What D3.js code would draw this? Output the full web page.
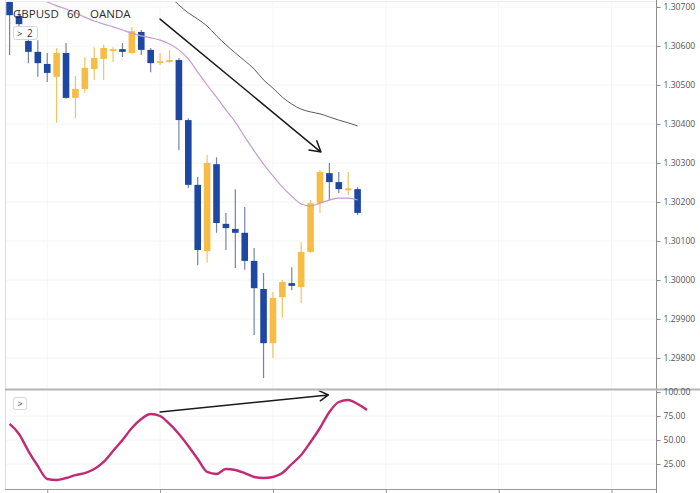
<!DOCTYPE html>
<html>
<head>
<meta charset="utf-8">
<script src="https://cdnjs.cloudflare.com/ajax/libs/d3/7.8.5/d3.min.js"></script>
<style>
body { margin: 0; background: #fff; }
#chart text { font-family: "Open Sans", sans-serif; }
</style>
</head>
<body>
<div id="chart"></div>
<script>
// GBPUSD 60 candles
let opens  = [1.30713, 1.30677, 1.30613, 1.30585, 1.30554, 1.30521, 1.30582, 1.30467, 1.30490, 1.30541, 1.30567, 1.30589, 1.30592, 1.30582, 1.30636, 1.30590, 1.30558, 1.30561, 1.30564, 1.30410, 1.30244, 1.30074, 1.30297, 1.30144, 1.30131, 1.30121, 1.30049, 1.29977, 1.29838, 1.29956, 1.29992, 1.29982, 1.30072, 1.30197, 1.30274, 1.30251, 1.30232, 1.30233];
let highs  = [1.30718, 1.30692, 1.30623, 1.30615, 1.30582, 1.30595, 1.30608, 1.30523, 1.30572, 1.30597, 1.30603, 1.30597, 1.30608, 1.30649, 1.30641, 1.30595, 1.30582, 1.30590, 1.30569, 1.30415, 1.30264, 1.30321, 1.30315, 1.30172, 1.30233, 1.30187, 1.30082, 1.30018, 1.29969, 1.30000, 1.30033, 1.30097, 1.30205, 1.30282, 1.30300, 1.30277, 1.30277, 1.30238];
let lows   = [1.30577, 1.30621, 1.30556, 1.30521, 1.30508, 1.30403, 1.30465, 1.30415, 1.30480, 1.30513, 1.30513, 1.30559, 1.30572, 1.30580, 1.30577, 1.30533, 1.30551, 1.30556, 1.30333, 1.30236, 1.30038, 1.30044, 1.30121, 1.30077, 1.30031, 1.30026, 1.29859, 1.29749, 1.29800, 1.29903, 1.29974, 1.29941, 1.30070, 1.30172, 1.30205, 1.30223, 1.30218, 1.30167];
let closes = [1.30679, 1.30656, 1.30585, 1.30556, 1.30531, 1.30582, 1.30467, 1.30490, 1.30544, 1.30569, 1.30595, 1.30590, 1.30585, 1.30638, 1.30590, 1.30556, 1.30559, 1.30562, 1.30410, 1.30244, 1.30077, 1.30300, 1.30146, 1.30133, 1.30121, 1.30049, 1.29979, 1.29838, 1.29954, 1.29995, 1.29985, 1.30072, 1.30197, 1.30277, 1.30251, 1.30233, 1.30233, 1.30172];

// medias moviles
let maFast = [1.30754, 1.30744, 1.30733, 1.30723, 1.30713, 1.30703, 1.30695, 1.30685, 1.30674, 1.30664, 1.30656, 1.30649, 1.30641, 1.30633, 1.30626, 1.30621, 1.30615, 1.30605, 1.30590, 1.30567, 1.30533, 1.30500, 1.30469, 1.30436, 1.30405, 1.30367, 1.30331, 1.30297, 1.30267, 1.30238, 1.30215, 1.30195, 1.30190, 1.30197, 1.30205, 1.30210, 1.30210, 1.30205];
let maSlow = [null, null, null, null, null, null, null, null, null, null, null, null, null, null, null, null, 1.30749, 1.30728, 1.30705, 1.30685, 1.30669, 1.30651, 1.30626, 1.30603, 1.30582, 1.30562, 1.30541, 1.30513, 1.30492, 1.30469, 1.30451, 1.30438, 1.30431, 1.30426, 1.30418, 1.30410, 1.30403, 1.30395];

// oscilador (panel inferior)
let osc = [66.7, 56.3, 38.5, 22.9, 9.4, 8.3, 10.4, 13.5, 15.6, 19.8, 27.1, 38.5, 50, 62.5, 71.9, 77.1, 75, 66.7, 56.3, 43.8, 30.2, 16.7, 14.6, 19.8, 18.8, 15.6, 11.5, 10.4, 11.5, 15.6, 25, 34.4, 47.9, 62.5, 79.2, 89.6, 91.7, 87.5, 81.3];

// dibujos (indice de vela, valor)
let priceArrow = [[16.0, 1.30669], [33.1, 1.30328]];
let oscArrow = [[16.0, 79.2], [33.9, 96.9]];

let priceTicks = [1.307, 1.306, 1.305, 1.304, 1.303, 1.302, 1.301, 1.300, 1.299, 1.298];
let oscTicks = [25, 50, 75, 100];
let timeTicks = [4, 16, 28, 40, 52, 64];
let titleParts = ['GBPUSD', '60', 'OANDA'];

let width = 700;
let height = 493;
let axisX = 656;
let sepY = 389.5;
let bottomY = 489;

let candles = opens.map(function(o, i) {
    return { i: i, o: o, h: highs[i], l: lows[i], c: closes[i] };
});

let svg = d3.select('#chart').append('svg')
    .attr('width', width)
    .attr('height', height);

let x = d3.scaleLinear().domain([0, 37]).range([9.6, 357.6]);
let yPrice = d3.scaleLinear().domain([1.298, 1.307]).range([358, 7]);
let yOsc = d3.scaleLinear().domain([0, 100]).range([488, 392]);

let defs = svg.append('defs');
defs.append('clipPath').attr('id', 'clipTop')
    .append('rect').attr('x', 5).attr('y', 2).attr('width', axisX - 5).attr('height', sepY - 3);
defs.append('clipPath').attr('id', 'clipBottom')
    .append('rect').attr('x', 5).attr('y', sepY + 1).attr('width', axisX - 5).attr('height', bottomY - sepY - 1);

//Rejilla
let grid = svg.append('g');
grid.selectAll('.hgrid')
    .data(priceTicks)
    .enter()
    .append('line')
    .attr('x1', 6).attr('x2', axisX)
    .attr('y1', d => yPrice(d)).attr('y2', d => yPrice(d))
    .style('stroke', '#f4f4f4');
grid.selectAll('.ogrid')
    .data(oscTicks.slice(0, 3))
    .enter()
    .append('line')
    .attr('x1', 6).attr('x2', axisX)
    .attr('y1', d => yOsc(d)).attr('y2', d => yOsc(d))
    .style('stroke', '#f4f4f4');
grid.selectAll('.vgrid')
    .data(timeTicks)
    .enter()
    .append('line')
    .attr('x1', d => x(d)).attr('x2', d => x(d))
    .attr('y1', 2).attr('y2', bottomY)
    .style('stroke', '#f6f6f6');

//Marcos
svg.append('line').attr('x1', 5.5).attr('x2', 5.5).attr('y1', 0).attr('y2', bottomY)
    .style('stroke', '#dcdcdc');
svg.append('line').attr('x1', 5).attr('x2', axisX).attr('y1', 1.5).attr('y2', 1.5)
    .style('stroke', '#ececec');

//Velas
let topPanel = svg.append('g').attr('clip-path', 'url(#clipTop)');

topPanel.append('g')
    .selectAll('line')
    .data(candles)
    .enter()
    .append('line')
    .attr('x1', d => x(d.i)).attr('x2', d => x(d.i))
    .attr('y1', d => yPrice(d.h)).attr('y2', d => yPrice(d.l))
    .style('stroke', d => d.c >= d.o ? '#f2c35e' : '#7484a8')
    .style('stroke-width', 1.2);

topPanel.append('g')
    .selectAll('rect')
    .data(candles)
    .enter()
    .append('rect')
    .attr('x', d => x(d.i) - 3.3)
    .attr('width', 6.6)
    .attr('y', function(d) {
        let h = Math.abs(yPrice(d.o) - yPrice(d.c));
        return h < 1.8 ? yPrice(Math.max(d.o, d.c)) - (1.8 - h) / 2 : yPrice(Math.max(d.o, d.c));
    })
    .attr('height', d => Math.max(1.8, Math.abs(yPrice(d.o) - yPrice(d.c))))
    .attr('fill', d => d.c >= d.o ? '#f6bc45' : '#1d47a0');

let maLine = d3.line()
    .defined(d => d != null)
    .x((d, i) => x(i))
    .y(d => yPrice(d))
    .curve(d3.curveMonotoneX);

topPanel.append('path')
    .datum(maFast)
    .attr('d', maLine)
    .attr('fill', 'none')
    .style('stroke', '#c89ad2')
    .style('stroke-width', 1.2);

topPanel.append('path')
    .datum(maSlow)
    .attr('d', maLine)
    .attr('fill', 'none')
    .style('stroke', '#5a5a5a')
    .style('stroke-width', 1);

drawArrow(topPanel, priceArrow.map(p => [x(p[0]), yPrice(p[1])]), 12);

//Oscilador
let bottomPanel = svg.append('g').attr('clip-path', 'url(#clipBottom)');

bottomPanel.append('path')
    .datum(osc)
    .attr('d', d3.line().x((d, i) => x(i)).y(d => yOsc(d)).curve(d3.curveMonotoneX))
    .attr('fill', 'none')
    .style('stroke', '#c22a74')
    .style('stroke-width', 2.4)
    .style('stroke-linejoin', 'round');

drawArrow(bottomPanel, oscArrow.map(p => [x(p[0]), yOsc(p[1])]), 10);

//Ejes
svg.append('line').attr('x1', axisX + 0.5).attr('x2', axisX + 0.5).attr('y1', 0).attr('y2', height)
    .style('stroke', '#8c8c8c');
svg.append('line').attr('x1', 5).attr('x2', width).attr('y1', sepY).attr('y2', sepY)
    .style('stroke', '#b4b4b4').style('stroke-width', 2);
svg.append('line').attr('x1', 5).attr('x2', axisX).attr('y1', bottomY + 0.5).attr('y2', bottomY + 0.5)
    .style('stroke', '#9a9a9a');

let priceAxis = svg.append('g')
    .attr('transform', 'translate(' + (axisX + 0.5) + ',0)')
    .call(d3.axisRight(yPrice).tickValues(priceTicks).tickSize(4).tickPadding(3).tickFormat(d3.format('.5f')));
styleAxis(priceAxis);

let oscAxis = svg.append('g')
    .attr('transform', 'translate(' + (axisX + 0.5) + ',0)')
    .call(d3.axisRight(yOsc).tickValues(oscTicks).tickSize(4).tickPadding(3).tickFormat(d3.format('.2f')));
styleAxis(oscAxis);

let timeAxis = svg.append('g')
    .attr('transform', 'translate(0,' + (bottomY + 0.5) + ')')
    .call(d3.axisBottom(x).tickValues(timeTicks).tickSize(4).tickFormat(''));
timeAxis.select('.domain').remove();
timeAxis.selectAll('line').style('stroke', '#9a9a9a');

//Leyenda
let title = svg.append('text')
    .attr('y', 18)
    .style('font-size', '11.5px')
    .style('fill', '#2b2b2b');
title.selectAll('tspan')
    .data(titleParts)
    .enter()
    .append('tspan')
    .attr('x', (d, i) => [13, 67, 90][i])
    .text(d => d);

svg.append('rect')
    .attr('x', 13.5).attr('y', 26.5).attr('width', 24).attr('height', 13).attr('rx', 2)
    .attr('fill', 'rgba(255,255,255,0.9)')
    .style('stroke', '#d6d6d6');
svg.append('text').attr('x', 17).attr('y', 36.5).style('font-size', '9.5px').style('fill', '#333').text('>');
svg.append('text').attr('x', 27).attr('y', 37).style('font-size', '10px').style('fill', '#333').text('2');

svg.append('rect')
    .attr('x', 13.5).attr('y', 397.5).attr('width', 13).attr('height', 12).attr('rx', 2)
    .attr('fill', '#fff')
    .style('stroke', '#d6d6d6');
svg.append('text').attr('x', 17.5).attr('y', 407).style('font-size', '9px').style('fill', '#333').text('>');

//Helpers
function styleAxis(g) {
    g.select('.domain').remove();
    g.selectAll('line').style('stroke', '#8c8c8c');
    g.selectAll('text').style('font-size', '8.6px').style('fill', '#555');
}

function drawArrow(g, pts, len) {
    let a = pts[0], b = pts[1];
    let ang = Math.atan2(b[1] - a[1], b[0] - a[0]);
    let arm = function(s) {
        let t = ang + Math.PI + s * Math.PI / 6;
        return [b[0] + len * Math.cos(t), b[1] + len * Math.sin(t)];
    };
    g.append('path')
        .attr('d', d3.line()([a, b]) + 'M' + arm(1) + 'L' + b + 'L' + arm(-1))
        .attr('fill', 'none')
        .style('stroke', '#1a1a1a')
        .style('stroke-width', 1.5)
        .style('stroke-linecap', 'round')
        .style('stroke-linejoin', 'round');
}
</script>
</body>
</html>
